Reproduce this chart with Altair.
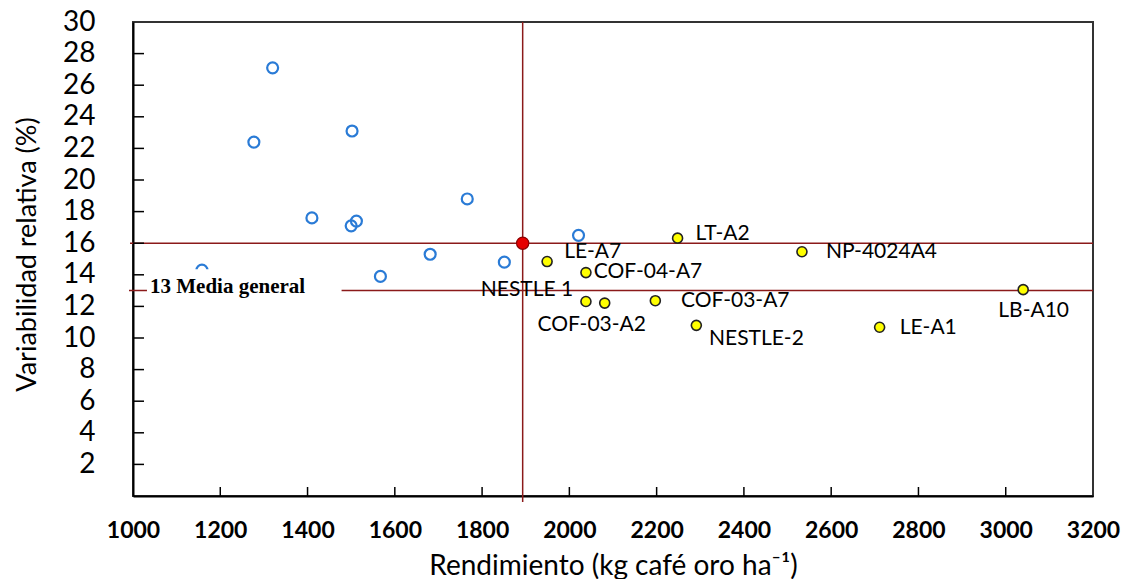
import altair as alt
import pandas as pd

# ---- data ----
blue_x = [1320, 1277, 1502, 1410, 1500, 1512, 1766, 1681, 1567, 1851, 1158, 2021]
blue_y = [27.1, 22.4, 23.1, 17.6, 17.1, 17.4, 18.8, 15.3, 13.9, 14.8, 14.3, 16.5]

yellow_x = [1949, 2248, 2533, 2038, 3040, 2038, 2081, 2197, 2291, 2711]
yellow_y = [14.84, 16.32, 15.46, 14.14, 13.06, 12.31, 12.21, 12.36, 10.8, 10.68]

mean_x = [1893]
mean_y = [16]
general_mean = [13]

label_text = ["LT-A2", "NP-4024A4", "LE-A7", "COF-04-A7", "NESTLE 1",
              "COF-03-A7", "COF-03-A2", "NESTLE-2", "LE-A1", "LB-A10"]
label_x = [2289, 2588, 1988, 2056, 1797, 2256, 1927, 2320, 2757, 2983]
label_y = [16.61, 15.47, 15.43, 14.18, 13.06, 12.36, 10.85, 9.95, 10.64, 11.74]

x_ticks = list(range(1000, 3201, 200))
y_ticks = list(range(2, 31, 2))
x_inner_ticks = list(range(1200, 3001, 200))
y_inner_ticks = list(range(2, 29, 2))

mean_label = ["13 Media general"]
mean_label_x = [1039]
mean_label_y = [12.85]
mean_box_x = [1032, 1478]
mean_box_y = [12.4, 14.35]

LINE = "#8b1a1a"
FONT = "Lato"

xs = alt.Scale(domain=[1000, 3200], nice=False, zero=False)
ys = alt.Scale(domain=[0, 30], nice=False, zero=False)

blue_df = pd.DataFrame({"x": blue_x, "y": blue_y})
yel_df = pd.DataFrame({"x": yellow_x, "y": yellow_y})
mean_df = pd.DataFrame({"x": mean_x, "y": mean_y})
lab_df = pd.DataFrame({"t": label_text, "x": label_x, "y": label_y})

x_axis = alt.Axis(values=x_ticks, format="d", tickCount=30, ticks=False,
                  tickSize=0, grid=False,
                  labelFont=FONT, labelFontWeight="bold", labelFontSize=23,
                  labelColor="black", labelPadding=23, labelFlush=False,
                  labelOverlap=False,
                  domainColor="black", domainWidth=2,
                  title="Rendimiento (kg café oro ha⁻¹)", titleFont=FONT,
                  titleFontSize=28, titleFontWeight="normal", titleColor="black",
                  titleY=70, titleBaseline="middle")
y_axis = alt.Axis(values=y_ticks, format="d", tickCount=30, ticks=False,
                  tickSize=0, grid=False,
                  labelFont=FONT, labelFontSize=28, labelColor="black",
                  labelPadding=38, labelFlush=False, labelOverlap=False,
                  domainColor="black", domainWidth=2,
                  title="Variabilidad relativa (%)", titleFont=FONT,
                  titleFontSize=27, titleFontWeight="normal", titleColor="black",
                  titleX=-106, titleY=232, titleAngle=270,
                  titleAlign="center", titleBaseline="middle")

base_x = alt.X("x:Q", scale=xs, axis=x_axis)
base_y = alt.Y("y:Q", scale=ys, axis=y_axis)
X = lambda: alt.X("x:Q", scale=xs)
Y = lambda: alt.Y("y:Q", scale=ys)

# axes carrier (blue points)
blue = alt.Chart(blue_df).mark_point(
    shape="circle", size=120, filled=False, stroke="#2a7bd6", strokeWidth=2.2,
    opacity=1
).encode(x=base_x, y=base_y)

hline16 = alt.Chart(mean_df).mark_rule(color=LINE, strokeWidth=1.5).encode(
    y=Y(), x=alt.value(-3), x2=alt.value(960))
hline13 = alt.Chart(pd.DataFrame({"y": general_mean})).mark_rule(
    color=LINE, strokeWidth=1.5).encode(
    y=Y(), x=alt.value(-4), x2=alt.value(960))
vline = alt.Chart(mean_df).mark_rule(color=LINE, strokeWidth=1.5).encode(
    x=X(), y=alt.value(0), y2=alt.value(480))

yellow = alt.Chart(yel_df).mark_point(
    shape="circle", size=100, filled=True, fill="#ffff00", stroke="#222",
    strokeWidth=1.6, opacity=1
).encode(x=X(), y=Y())

red = alt.Chart(mean_df).mark_point(
    shape="circle", size=150, filled=True, fill="#e60000", stroke="#8b0000",
    strokeWidth=1.2, opacity=1
).encode(x=X(), y=Y())

box = alt.Chart(pd.DataFrame({"x": [mean_box_x[0]], "x2": [mean_box_x[1]],
                              "y": [mean_box_y[0]], "y2": [mean_box_y[1]]})
                ).mark_rect(color="white").encode(
    x=X(), x2="x2:Q", y=Y(), y2="y2:Q")

mean_txt = alt.Chart(pd.DataFrame({"t": mean_label, "x": mean_label_x,
                                   "y": mean_label_y})).mark_text(
    font="Liberation Serif", fontWeight="bold", fontSize=21, color="black",
    align="left", baseline="alphabetic"
).encode(x=X(), y=Y(), text="t:N")

labels = alt.Chart(lab_df).mark_text(
    font=FONT, fontSize=21, color="black", align="left", baseline="middle"
).encode(x=X(), y=Y(), text="t:N")

yt = alt.Chart(pd.DataFrame({"y": y_inner_ticks})).mark_rule(
    color="black", strokeWidth=1.5).encode(
    y=Y(), x=alt.value(0), x2=alt.value(11))
xt = alt.Chart(pd.DataFrame({"x": x_inner_ticks})).mark_rule(
    color="black", strokeWidth=1.5).encode(
    x=X(), y=alt.value(465), y2=alt.value(474))

chart = alt.layer(
    blue, hline16, hline13, vline, yellow, red, box, mean_txt, labels, yt, xt
).properties(
    width=960, height=474,
    autosize=alt.AutoSizeParams(type="none"),
    padding={"left": 133, "top": 22, "right": 33, "bottom": 83},
    background="white",
).configure_view(stroke="#333", strokeWidth=2
).configure_axis(labelOverlap=False)

chart.save("out.html", embed_options={"renderer": "svg", "actions": False})
